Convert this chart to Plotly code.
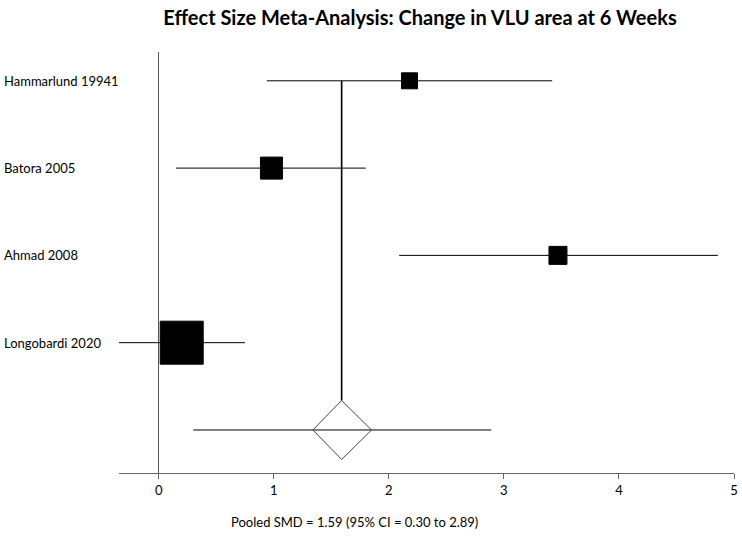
import plotly.graph_objects as go

studies = ["Hammarlund 19941", "Batora 2005", "Ahmad 2008", "Longobardi 2020"]
smd = [2.18, 0.98, 3.47, 0.20]
ci_low = [0.94, 0.15, 2.09, -0.35]
ci_high = [3.42, 1.80, 4.86, 0.75]
weights = [16, 22, 18, 43]
rows = [5, 4, 3, 2]

pooled_smd = 1.59
pooled_low = 0.30
pooled_high = 2.89
diamond_low = 1.34
diamond_high = 1.85
pooled_row = 1

x_ticks = [0, 1, 2, 3, 4, 5]

W, H = 742, 536
L, T = 119, 52
PW, PH = 619, 421
R = W - L - PW
B = H - T - PH

fig = go.Figure()

for y, lo, hi in zip(rows, ci_low, ci_high):
    fig.add_trace(go.Scatter(x=[lo, hi], y=[y, y], mode="lines",
                             line=dict(color="black", width=1), hoverinfo="skip", cliponaxis=False))

fig.add_trace(go.Scatter(x=[pooled_low, pooled_high], y=[pooled_row, pooled_row], mode="lines",
                         line=dict(color="black", width=1), hoverinfo="skip"))

dh = 0.338
fig.add_trace(go.Scatter(x=[pooled_smd, pooled_smd], y=[rows[0], pooled_row + dh], mode="lines",
                         line=dict(color="black", width=1.6), hoverinfo="skip"))

fig.add_trace(go.Scatter(
    x=[diamond_low, pooled_smd, diamond_high, pooled_smd, diamond_low],
    y=[pooled_row, pooled_row + dh, pooled_row, pooled_row - dh, pooled_row],
    mode="lines", line=dict(color="#444", width=1), hoverinfo="skip"))

fig.add_trace(go.Scatter(x=smd, y=rows, mode="markers",
                         marker=dict(symbol="square", size=weights, color="black", opacity=1,
                                     line=dict(color="black", width=1)),
                         hoverinfo="skip", cliponaxis=False))

annotations = []
for y, name in zip(rows, studies):
    annotations.append(dict(x=-(L - 1) / PW, xref="paper", y=y, yref="y", text=name,
                            showarrow=False, xanchor="left", yanchor="middle",
                            font=dict(family="Lato", size=13, color="black")))
annotations.append(dict(x=(356 - L) / PW, xref="paper", y=(473 - 522) / PH, yref="paper",
                        text="Pooled SMD = %.2f (95%% CI = %.2f to %.2f)" % (pooled_smd, pooled_low, pooled_high),
                        showarrow=False, xanchor="center", yanchor="middle",
                        font=dict(family="Lato", size=13, color="black")))

fig.update_layout(
    width=W, height=H,
    margin=dict(l=L, r=R, t=T, b=B, pad=0),
    plot_bgcolor="white", paper_bgcolor="white",
    showlegend=False,
    title=dict(text="<b>Effect Size Meta-Analysis: Change in VLU area at 6 Weeks</b>",
               x=420 / W, xanchor="center", y=1 - 18 / H, yanchor="middle",
               font=dict(family="Lato", size=20, color="black")),
    xaxis=dict(range=[-0.345, 5], tickvals=x_ticks, ticktext=[str(t) for t in x_ticks],
               showgrid=False, zeroline=True, zerolinecolor="#555", zerolinewidth=1,
               showline=True, linecolor="#666", linewidth=1,
               ticks="outside", ticklen=5, tickcolor="#666",
               tickfont=dict(family="Lato", size=13, color="black")),
    yaxis=dict(range=[0.507, 5.33], showgrid=False, zeroline=False, showticklabels=False,
               showline=False),
    annotations=annotations,
)

fig.write_html("out.html", config={"displayModeBar": False},
               post_script="document.body.style.margin='0';document.body.style.overflow='hidden';")
